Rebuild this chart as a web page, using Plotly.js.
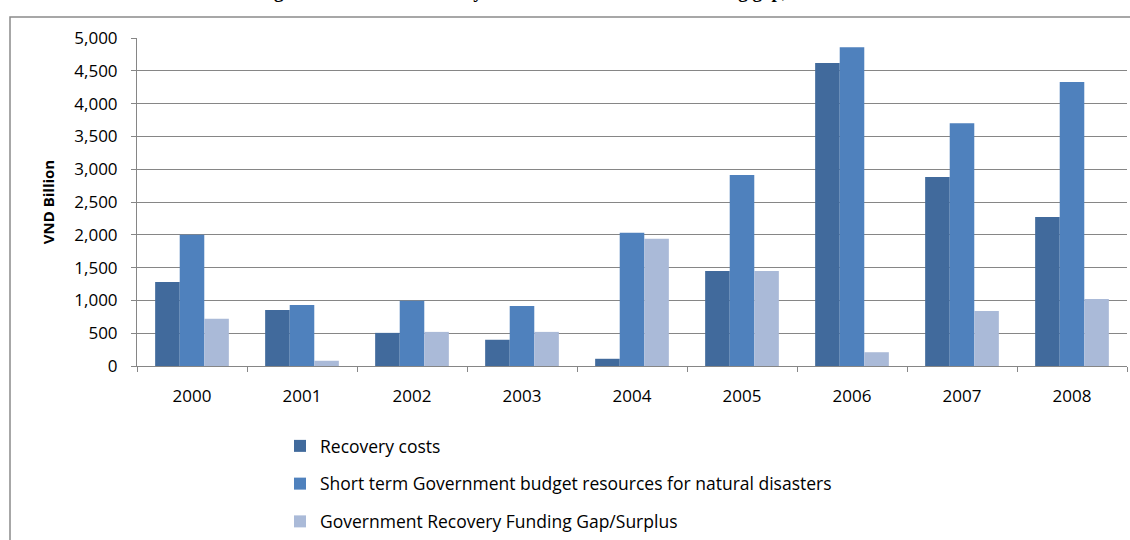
<!DOCTYPE html>
<html>
<head>
<meta charset="utf-8">
<script src="https://cdn.plot.ly/plotly-3.0.1.min.js"></script>
<style>
  html, body { margin: 0; padding: 0; background: #fff; }
  #chart { width: 1130px; height: 540px; }
</style>
</head>
<body>
<div id="chart"></div>
<script>
// ---- data ----
const years = ['2000', '2001', '2002', '2003', '2004', '2005', '2006', '2007', '2008'];
const recoveryCosts = [1280, 855, 505, 400, 110, 1450, 4620, 2880, 2270];
const budgetResources = [2000, 930, 995, 915, 2030, 2910, 4860, 3700, 4330];
const fundingGap = [720, 80, 520, 520, 1940, 1450, 210, 840, 1020];
const seriesNames = [
  'Recovery costs',
  'Short term Government budget resources for natural disasters',
  'Government Recovery Funding Gap/Surplus'
];
const yTickVals = [0, 500, 1000, 1500, 2000, 2500, 3000, 3500, 4000, 4500, 5000];
const yTickText = ['0', '500', '1,000', '1,500', '2,000', '2,500', '3,000', '3,500', '4,000', '4,500', '5,000'];
const titleText = 'Figure 4: Disaster Recovery Costs and Government Funding gap, 2000-2008';

const colors = ['#416A9C', '#4F81BD', '#AABAD8'];
const font = 'Open Sans, Liberation Sans, sans-serif';

const traces = [recoveryCosts, budgetResources, fundingGap].map((vals, i) => ({
  type: 'bar',
  name: seriesNames[i],
  x: years,
  y: vals,
  marker: { color: colors[i], line: { width: 0 } },
  legendgroup: 'g' + i,
  hoverinfo: 'x+y+name'
}));

// plot area in pixels: x 137..1127, y 38..366
const L = 137, R = 3, T = 38, B = 174;
const PW = 1130 - L - R, PH = 540 - T - B;
const px = v => (v - L) / PW;
const py = v => (540 - B - v) / PH;

const layout = {
  width: 1130,
  height: 540,
  margin: { l: L, r: R, t: T, b: B, pad: 0, autoexpand: false },
  paper_bgcolor: '#ffffff',
  plot_bgcolor: '#ffffff',
  barmode: 'group',
  bargap: 0.33,
  bargroupgap: 0,
  showlegend: true,
  font: { family: font, size: 17, color: '#000000' },
  xaxis: {
    type: 'category',
    automargin: false,
    showgrid: false,
    showline: true,
    linecolor: '#868686',
    linewidth: 1,
    ticks: 'outside',
    tickson: 'boundaries',
    ticklen: 5,
    tickcolor: '#868686',
    tickfont: { family: font, size: 17, color: '#000' },
    ticklabelstandoff: 15,
    zeroline: false,
    mirror: false
  },
  yaxis: {
    range: [0, 5000],
    automargin: false,
    tickvals: yTickVals,
    ticktext: yTickText,
    showgrid: true,
    gridcolor: '#868686',
    gridwidth: 1,
    showline: true,
    linecolor: '#868686',
    linewidth: 1,
    ticks: 'outside',
    ticklen: 5,
    tickcolor: '#868686',
    tickfont: { family: font, size: 17, color: '#000' },
    ticklabelstandoff: 10,
    zeroline: false,
    title: { text: 'VND Billion', font: { family: font, size: 15, color: '#000', weight: 'bold' }, standoff: 16 }
  },
  legend: {
    orientation: 'v',
    x: px(280),
    xanchor: 'left',
    y: py(428),
    yanchor: 'top',
    traceorder: 'grouped',
    tracegroupgap: 12,
    font: { family: font, size: 17.5, color: '#000' },
    bgcolor: 'rgba(0,0,0,0)',
    itemclick: false
  },
  shapes: [
    {
      type: 'rect', xref: 'paper', yref: 'paper',
      x0: px(10), x1: px(1140), y0: py(550), y1: py(17),
      line: { color: '#8a8a8a', width: 1.5 },
      fillcolor: 'rgba(0,0,0,0)',
      layer: 'below'
    }
  ],
  annotations: [
    {
      text: '<b>' + titleText + '</b>',
      xref: 'paper', yref: 'paper',
      x: px(565), y: py(4),
      xanchor: 'center', yanchor: 'bottom',
      showarrow: false,
      font: { family: 'Liberation Serif, serif', size: 19, color: '#000' }
    }
  ]
};

Plotly.newPlot('chart', traces, layout, { displayModeBar: false, staticPlot: true });
</script>
</body>
</html>
